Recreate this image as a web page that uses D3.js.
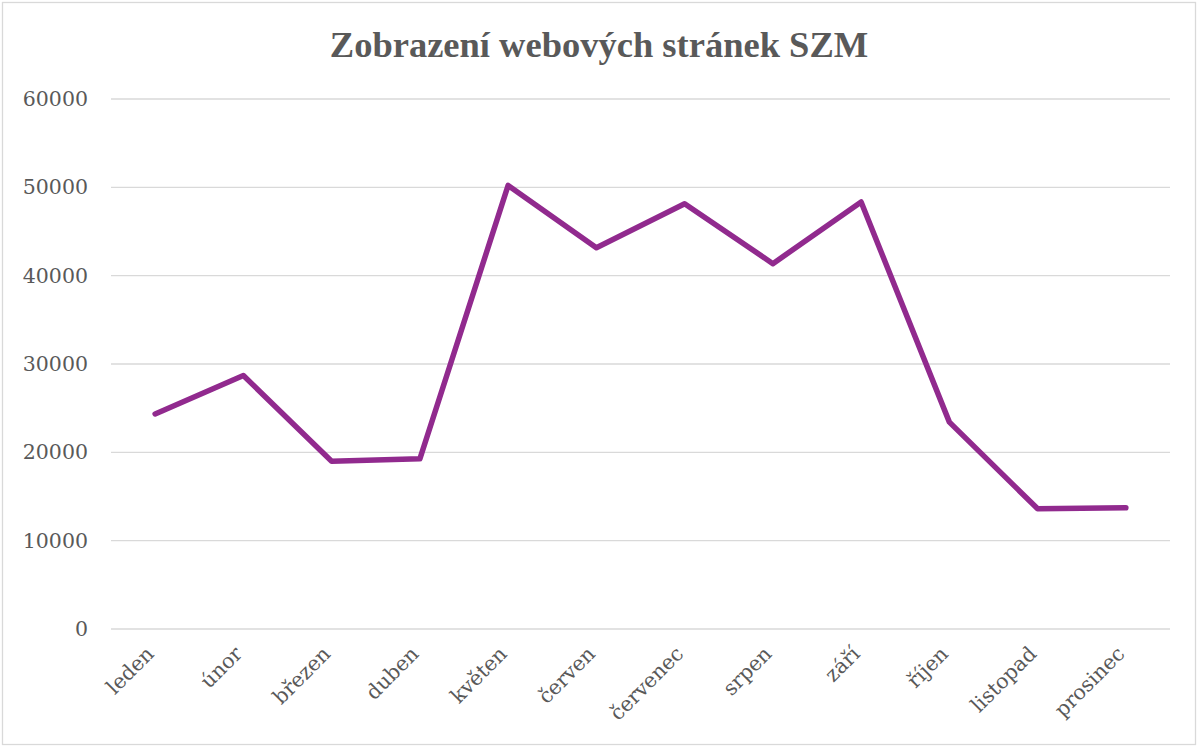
<!DOCTYPE html>
<html>
<head>
<meta charset="utf-8">
<script src="https://cdn.jsdelivr.net/npm/d3@7"></script>
<style>
  body { margin: 0; background: #fff; }
</style>
</head>
<body>
<div id="chart"></div>
<script>
// data
const months = ["leden", "únor", "březen", "duben", "květen", "červen", "červenec", "srpen", "září", "říjen", "listopad", "prosinec"];
const views = [24350, 28700, 19000, 19270, 50220, 43170, 48150, 41360, 48340, 23420, 13610, 13720];
const yTicks = [0, 10000, 20000, 30000, 40000, 50000, 60000];
const title = "Zobrazení webových stránek SZM";

const width = 1198, height = 747;
const margin = {top: 99, right: 28, bottom: 118, left: 111};

const svg = d3.select("#chart").append("svg")
  .attr("width", width)
  .attr("height", height);

// outer frame of the chart
svg.append("rect")
  .attr("x", 2.5).attr("y", 2.5)
  .attr("width", width - 5).attr("height", height - 5)
  .attr("fill", "#fff")
  .attr("stroke", "#d9d9d9")
  .attr("stroke-width", 1.3);

const x = d3.scaleBand()
  .domain(months)
  .range([margin.left, width - margin.right]);

const y = d3.scaleLinear()
  .domain([0, 60000])
  .range([height - margin.bottom, margin.top]);

// gridlines
svg.append("g")
  .selectAll("line")
  .data(yTicks)
  .enter().append("line")
  .attr("x1", margin.left)
  .attr("x2", width - margin.right)
  .attr("y1", d => y(d))
  .attr("y2", d => y(d))
  .attr("stroke", "#d9d9d9")
  .attr("stroke-width", 1.3);

// y axis labels
const yAxis = svg.append("g")
  .attr("transform", `translate(${margin.left - 23},0)`)
  .call(d3.axisLeft(y).tickValues(yTicks).tickSize(0).tickPadding(0).tickFormat(d3.format("d")));
yAxis.select(".domain").remove();
yAxis.selectAll("text")
  .attr("fill", "#595959")
  .style("font-family", "'DejaVu Serif', serif")
  .style("font-size", "20.5px");

// x axis labels, rotated
const xAxis = svg.append("g")
  .attr("transform", `translate(0,${height - margin.bottom + 21})`)
  .call(d3.axisBottom(x).tickSize(0).tickPadding(0));
xAxis.select(".domain").remove();
xAxis.selectAll("text")
  .attr("fill", "#595959")
  .style("font-family", "'DejaVu Serif', serif")
  .style("font-size", "20.5px")
  .attr("text-anchor", "end")
  .attr("dy", "0.35em")
  .attr("transform", "translate(-5,0) rotate(-45)");

// the line
const line = d3.line()
  .x((d, i) => x(months[i]) + x.bandwidth() / 2)
  .y(d => y(d));

svg.append("path")
  .datum(views)
  .attr("d", line)
  .attr("fill", "none")
  .attr("stroke", "#912a8e")
  .attr("stroke-width", 5.5)
  .attr("stroke-linejoin", "round")
  .attr("stroke-linecap", "round");

// title
svg.append("text")
  .attr("x", width / 2)
  .attr("y", 57)
  .attr("text-anchor", "middle")
  .attr("fill", "#595959")
  .style("font-family", "'Liberation Serif', serif")
  .style("font-weight", "bold")
  .style("font-size", "36.5px")
  .text(title);
</script>
</body>
</html>
